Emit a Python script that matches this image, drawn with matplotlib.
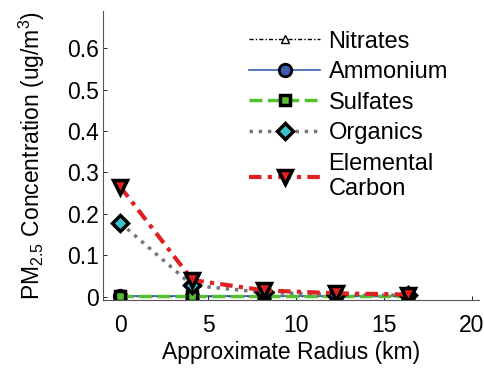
import numpy as np
import matplotlib.pyplot as plt

plt.rcParams['font.family'] = ['Liberation Sans', 'DejaVu Sans']
plt.rcParams['mathtext.fontset'] = 'custom'
plt.rcParams['mathtext.rm'] = 'Liberation Sans'
plt.rcParams['mathtext.it'] = 'Liberation Sans'

# radius (km) and concentrations (ug/m3)
radius = [0, 4.1, 8.2, 12.3, 16.4]
nitrates = [0.001, 0.001, 0.001, 0.001, 0.001]
ammonium = [0.001, 0.001, 0.001, 0.001, 0.001]
sulfates = [0.001, 0.001, 0.001, 0.001, 0.001]
organics = [0.178, 0.027, 0.010, 0.005, 0.003]
elemental_carbon = [0.265, 0.040, 0.015, 0.008, 0.005]

fig = plt.figure(figsize=(4.85, 3.68), dpi=100)
ax = fig.add_axes([0.212, 0.185, 0.775, 0.785])

ax.plot(radius, nitrates, color='black', linestyle=(0, (3, 1.5, 1, 1.5)), lw=1,
        marker='^', ms=6, mfc='white', mec='black', mew=1, label='Nitrates')
ax.plot(radius, ammonium, color='#3a5dae', linestyle='-', lw=1.2,
        marker='o', ms=9, mfc='#3a5dae', mec='black', mew=2, label='Ammonium')
ax.plot(radius, sulfates, color='#55c030', linestyle='--', lw=2.5,
        marker='s', ms=7, mfc='#55c030', mec='black', mew=2.5, label='Sulfates')
ax.plot(radius, organics, color='#777777', linestyle=':', lw=2.5,
        marker='D', ms=8, mfc='#3cc0d0', mec='black', mew=2.5, label='Organics')
ax.plot(radius, elemental_carbon, color='#e02020', linestyle=(0, (3, 1.5, 1, 1.5)), lw=3,
        marker='v', ms=10, mfc='#e02020', mec='black', mew=2.5, label='Elemental\nCarbon')

ax.set_xlim(-1, 20.4)
ax.set_ylim(-0.008, 0.69)
ax.set_xticks([0, 5, 10, 15, 20])
ax.set_yticks([0, 0.1, 0.2, 0.3, 0.4, 0.5, 0.6])
ax.set_yticklabels(['0', '0.1', '0.2', '0.3', '0.4', '0.5', '0.6'])
ax.tick_params(direction='in', length=3, labelsize=16.5, width=0.6, pad=3)
ax.tick_params(axis='x', pad=10)
for s in ['top', 'right']:
    ax.spines[s].set_visible(False)
for s in ['left', 'bottom']:
    ax.spines[s].set_linewidth(0.8)
    ax.spines[s].set_color('#555555')

ax.set_xlabel('Approximate Radius (km)', fontsize=16.5, labelpad=3)
ax.set_ylabel('PM$_{2.5}$ Concentration (ug/m$^3$)', fontsize=16.5, labelpad=14)

ax.legend(loc='upper left', bbox_to_anchor=(0.365, 0.965), frameon=False, fontsize=17,
          handlelength=3.0, handletextpad=0.35, labelspacing=0.36, borderaxespad=0.0)

plt.savefig('out.png', dpi=100)
